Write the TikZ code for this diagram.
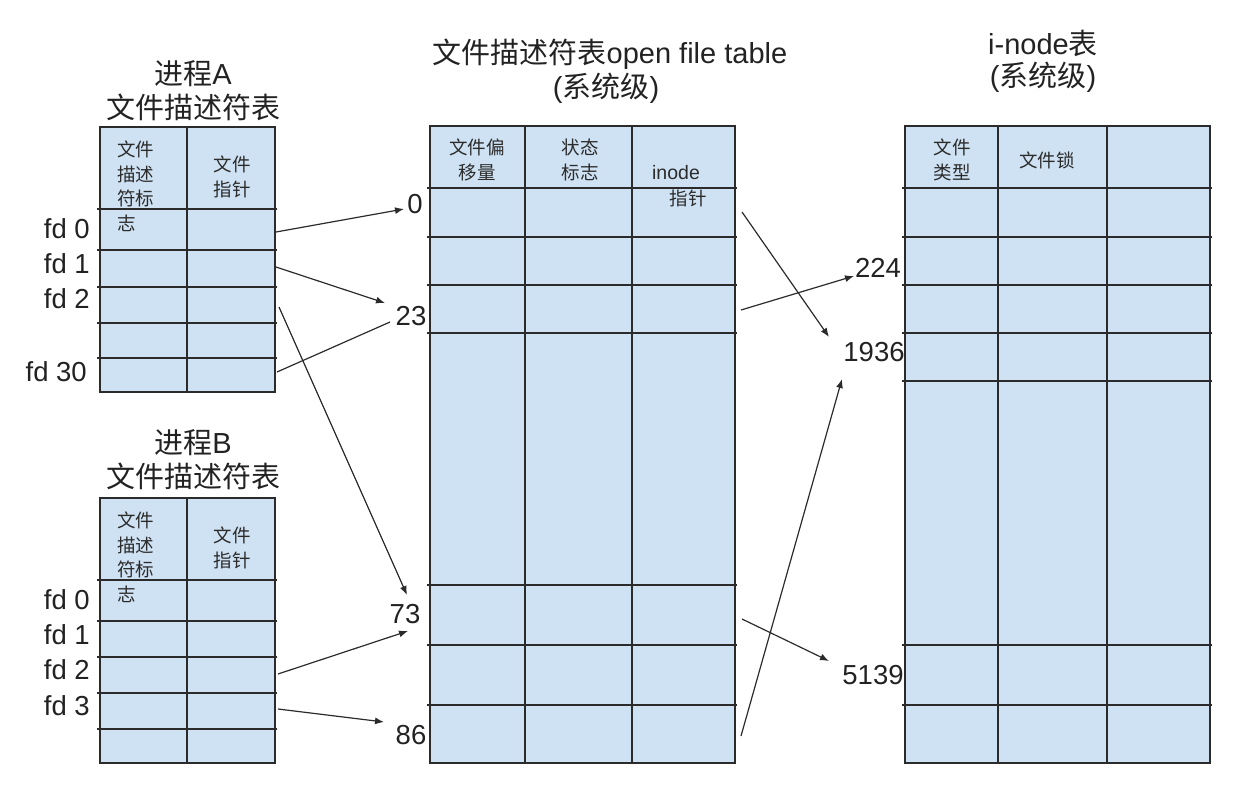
\documentclass[tikz,border=0pt]{standalone}
\usepackage{fontspec}
\setmainfont{Liberation Sans}
\newfontfamily\cjk{Noto Sans CJK SC}
\usetikzlibrary{arrows.meta}
\definecolor{cellblue}{HTML}{CFE2F3}
\definecolor{ink}{HTML}{2B2B2B}
\definecolor{txt}{HTML}{222222}

\tikzset{
  rule/.style={draw=ink, line width=1.4pt},
  ptr/.style={draw=ink, line width=1.2pt, -{Latex[length=9pt,width=7pt]}},
  link/.style={draw=ink, line width=1.2pt},
  lbl/.style={font=\fontsize{27.5}{31}\selectfont, text=txt, inner sep=0pt},
  ttl/.style={font=\fontsize{29}{33}\selectfont, text=txt, inner sep=0pt, align=center},
  hdr/.style={font=\cjk\fontsize{18.5}{24.5}\selectfont, text=ink, inner sep=0pt},
}

% a filled table: left, top, right, bottom, column dividers, row lines
\newcommand{\filetable}[6]{%
  \fill[cellblue] (#1,#2) rectangle (#3,#4);
  \foreach \cx in {#5} {\draw[rule] (\cx,#2) -- (\cx,#4);}
  \foreach \ry in {#6} {\draw[rule] (#1-3,\ry) -- (#3+2,\ry);}
  \draw[rule] (#1,#2) rectangle (#3,#4);
}

\begin{document}
\begin{tikzpicture}[x=1pt, y=-1pt]
\useasboundingbox (0,0) rectangle (1236,784);

% ---------- process A descriptor table ----------
\node[ttl] (titA1) at (193,74) {{\cjk 进程}A};
\node[ttl] (titA2) at (193,107) {\cjk 文件描述符表};
\filetable{100}{127}{275}{392}{187}{209,250,287,323,358}
\node[hdr, anchor=north west, align=left] (hA1) at (117,141) {文件\\描述\\符标\\志};
\node[hdr, align=center] (hA2) at (232,177) {文件\\指针};
\node[lbl, anchor=east] (fdA0) at (90,229) {fd 0};
\node[lbl, anchor=east] (fdA1) at (90,264) {fd 1};
\node[lbl, anchor=east] (fdA2) at (90,299) {fd 2};
\node[lbl, anchor=east] (fdA30) at (87,372) {fd 30};

% ---------- process B descriptor table ----------
\node[ttl] (titB1) at (193,443) {{\cjk 进程}B};
\node[ttl] (titB2) at (193,476) {\cjk 文件描述符表};
\filetable{100}{498}{275}{763}{187}{580,621,657,693,729}
\node[hdr, anchor=north west, align=left] (hB1) at (117,512) {文件\\描述\\符标\\志};
\node[hdr, align=center] (hB2) at (232,548) {文件\\指针};
\node[lbl, anchor=east] (fdB0) at (90,600) {fd 0};
\node[lbl, anchor=east] (fdB1) at (90,635) {fd 1};
\node[lbl, anchor=east] (fdB2) at (90,670) {fd 2};
\node[lbl, anchor=east] (fdB3) at (90,706) {fd 3};

% ---------- open file table ----------
\node[ttl] (titM1) at (610,54) {{\cjk 文件描述符表}open file table};
\node[ttl] (titM2) at (606,88) {({\cjk 系统级})};
\filetable{430}{126}{735}{763}{525,632}{188,237,285,333,585,645,705}
\node[hdr, align=center] (hM1) at (477,160) {文件偏\\移量};
\node[hdr, align=center] (hM2) at (580,160) {状态\\标志};
\node[lbl, font=\fontsize{19.5}{22}\selectfont, text=ink] (hM3a) at (676,173) {inode};
\node[hdr] (hM3b) at (688,198) {指针};

% ---------- i-node table ----------
\node[ttl] (titI1) at (1043,43) {i-node{\cjk 表}};
\node[ttl] (titI2) at (1043,77) {({\cjk 系统级})};
\filetable{905}{126}{1210}{763}{998,1107}{188,237,285,333,381,645,705}
\node[hdr, align=center] (hI1) at (952,160) {文件\\类型};
\node[hdr] (hI2) at (1047,160) {文件锁};

% ---------- offsets and i-node numbers ----------
\node[lbl] (n0) at (415,204) {0};
\node[lbl] (n23) at (411,316) {23};
\node[lbl] (n73) at (405,614) {73};
\node[lbl] (n86) at (411,735) {86};
\node[lbl] (n224) at (878,268) {224};
\node[lbl] (n1936) at (874,352) {1936};
\node[lbl] (n5139) at (873,675) {5139};

% ---------- pointer end points ----------
\coordinate (sA0) at (276,232);  \coordinate (eA0) at (404,209);
\coordinate (sA1) at (276,267);  \coordinate (eA1) at (385,303);
\coordinate (sA2) at (279,307);  \coordinate (eA2) at (407,595);
\coordinate (sA30) at (277,372); \coordinate (eA30) at (390,322);
\coordinate (sB2) at (278,674);  \coordinate (eB2) at (408,631);
\coordinate (sB3) at (278,709);  \coordinate (eB3) at (384,722);
\coordinate (sM0) at (742,212);  \coordinate (eM0) at (829,337);
\coordinate (sM1) at (741,310);  \coordinate (eM1) at (854,276);
\coordinate (sM2) at (742,619);  \coordinate (eM2) at (829,661);
\coordinate (sM3) at (741,736);  \coordinate (eM3) at (842,379);

% ---------- pointers ----------
\draw[ptr] (sA0) -- (eA0);
\draw[ptr] (sA1) -- (eA1);
\draw[link] (sA30) -- (eA30);
\draw[ptr] (sA2) -- (eA2);
\draw[ptr] (sB2) -- (eB2);
\draw[ptr] (sB3) -- (eB3);
\draw[ptr] (sM0) -- (eM0);
\draw[ptr] (sM1) -- (eM1);
\draw[ptr] (sM2) -- (eM2);
\draw[ptr] (sM3) -- (eM3);
\end{tikzpicture}
\end{document}
